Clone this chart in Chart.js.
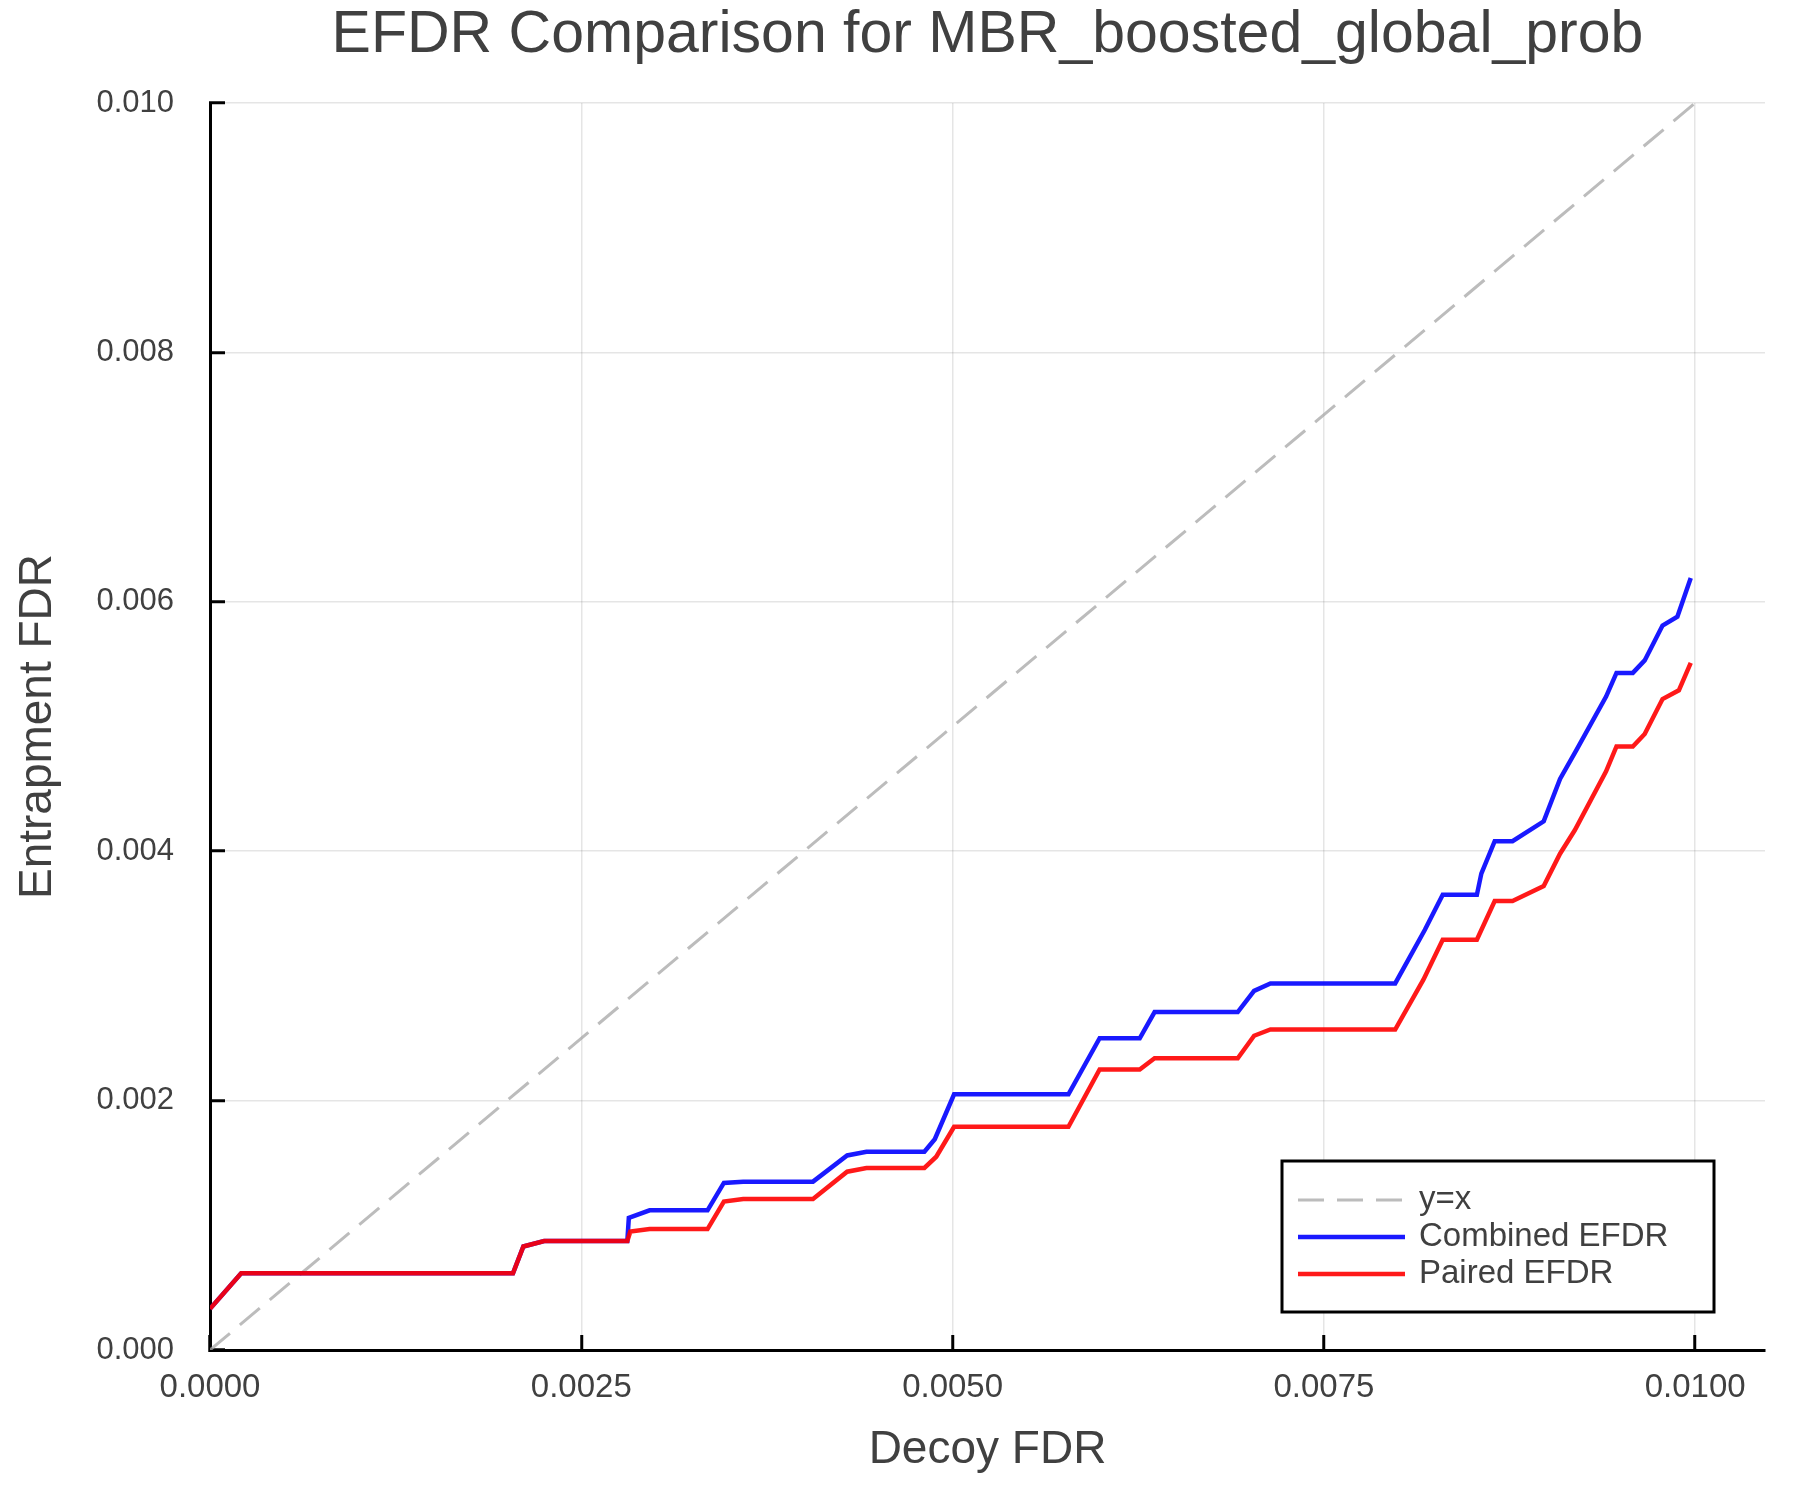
<!DOCTYPE html>
<html>
<head>
<meta charset="utf-8">
<style>
  html, body { margin: 0; padding: 0; background: #ffffff; }
  #wrap { width: 1800px; height: 1500px; }
</style>
<script src="https://cdn.jsdelivr.net/npm/chart.js@4.4.1/dist/chart.umd.min.js"></script>
</head>
<body>
<div id="wrap"><canvas id="c" width="1800" height="1500"></canvas></div>
<script>
const chartTitle = 'EFDR Comparison for MBR_boosted_global_prob';
const xAxisTitle = 'Decoy FDR';
const yAxisTitle = 'Entrapment FDR';
const seriesLabels = ['y=x', 'Combined EFDR', 'Paired EFDR'];

const xTicks = [0, 0.0025, 0.005, 0.0075, 0.01];
const yTicks = [0, 0.002, 0.004, 0.006, 0.008, 0.01];

const identityX = [0, 0.01];
const identityY = [0, 0.01];

const combinedX = [0, 0.00021, 0.00204, 0.00211, 0.00225, 0.00281, 0.00282, 0.00296, 0.00335, 0.00346,
  0.00359, 0.00406, 0.00429, 0.00442, 0.00481, 0.00488, 0.00501, 0.00578, 0.00599, 0.00626,
  0.00636, 0.00692, 0.00703, 0.00714, 0.00798, 0.00818, 0.0083, 0.00853, 0.00856, 0.00865,
  0.00877, 0.00898, 0.00909, 0.0092, 0.0094, 0.00947, 0.00958, 0.00966, 0.00978, 0.00988, 0.00997];
const combinedY = [0.00033, 0.000615, 0.000615, 0.00083, 0.000874, 0.000874, 0.00106, 0.00112, 0.00112, 0.00134,
  0.00135, 0.00135, 0.00156, 0.00159, 0.00159, 0.00169, 0.00205, 0.00205, 0.0025, 0.0025,
  0.00271, 0.00271, 0.00288, 0.00294, 0.00294, 0.00337, 0.00365, 0.00365, 0.00382, 0.00408,
  0.00408, 0.00424, 0.00458, 0.00481, 0.00524, 0.00543, 0.00543, 0.00553, 0.00581, 0.00588, 0.00619];

const pairedX = [0, 0.00021, 0.00204, 0.00211, 0.00225, 0.00281, 0.00283, 0.00296, 0.00335, 0.00346,
  0.00359, 0.00406, 0.00429, 0.00442, 0.00481, 0.00489, 0.00501, 0.00578, 0.00599, 0.00626,
  0.00636, 0.00692, 0.00703, 0.00714, 0.00798, 0.00817, 0.0083, 0.00853, 0.00865, 0.00877,
  0.00898, 0.00909, 0.00919, 0.0094, 0.00947, 0.00958, 0.00966, 0.00978, 0.00989, 0.00997];
const pairedY = [0.00033, 0.000615, 0.000615, 0.00083, 0.000874, 0.000874, 0.00095, 0.00097, 0.00097, 0.00119,
  0.00121, 0.00121, 0.00143, 0.00146, 0.00146, 0.00155, 0.00179, 0.00179, 0.00225, 0.00225,
  0.00234, 0.00234, 0.00252, 0.00257, 0.00257, 0.00297, 0.00329, 0.00329, 0.0036, 0.0036,
  0.00372, 0.00398, 0.00417, 0.00464, 0.00484, 0.00484, 0.00494, 0.00522, 0.00529, 0.00551];

const toPoints = (xs, ys) => xs.map((x, i) => ({ x: x, y: ys[i] }));

const FONT = '"Liberation Sans", Arial, Helvetica, sans-serif';
const TEXT = '#404040';

const boxLegend = {
  id: 'boxLegend',
  afterDraw(chart) {
    const ctx = chart.ctx;
    const ca = chart.chartArea;
    const w = 432, h = 151;
    const right = ca.right - 51, bottom = ca.bottom - 38;
    const left = right - w, top = bottom - h;
    ctx.save();
    ctx.fillStyle = '#ffffff';
    ctx.fillRect(left, top, w, h);
    ctx.strokeStyle = '#000000';
    ctx.lineWidth = 3;
    ctx.strokeRect(left, top, w, h);
    const rows = [39, 76, 113];
    chart.data.datasets.forEach((ds, i) => {
      const y = top + rows[i];
      ctx.beginPath();
      ctx.setLineDash(ds.borderDash || []);
      ctx.strokeStyle = ds.borderColor;
      ctx.lineWidth = ds.borderWidth;
      ctx.moveTo(left + 16, y);
      ctx.lineTo(left + 123, y);
      ctx.stroke();
      ctx.setLineDash([]);
      ctx.fillStyle = TEXT;
      ctx.font = '33px ' + FONT;
      ctx.textAlign = 'left';
      ctx.textBaseline = 'middle';
      ctx.fillText(ds.label, left + 137, y);
    });
    ctx.restore();
  }
};

new Chart(document.getElementById('c'), {
  type: 'line',
  data: {
    datasets: [
      { label: seriesLabels[0], order: 2, data: toPoints(identityX, identityY), borderColor: 'rgba(165,165,165,0.75)', borderWidth: 3, borderDash: [26, 13], pointRadius: 0, tension: 0, fill: false },
      { label: seriesLabels[1], order: 1, data: toPoints(combinedX, combinedY), borderColor: 'rgba(0,0,255,0.9)', borderWidth: 4.5, pointRadius: 0, tension: 0, fill: false },
      { label: seriesLabels[2], order: 0, data: toPoints(pairedX, pairedY), borderColor: 'rgba(255,0,0,0.9)', borderWidth: 4.5, pointRadius: 0, tension: 0, fill: false }
    ]
  },
  options: {
    responsive: false,
    devicePixelRatio: 1,
    animation: false,
    events: [],
    layout: { padding: { left: 0, right: 35, top: 0, bottom: 0 } },
    plugins: {
      legend: { display: false },
      tooltip: { enabled: false },
      title: {
        display: true, text: chartTitle, color: TEXT, fullSize: false,
        font: { family: FONT, size: 59, weight: 'normal' },
        padding: { top: 0, bottom: 32.2 }
      }
    },
    scales: {
      x: {
        type: 'linear', min: 0, max: 0.01047,
        afterBuildTicks: (s) => { s.ticks = xTicks.map(v => ({ value: v })); },
        afterFit: (s) => { s.height = 150; },
        ticks: { callback: (v) => Number(v).toFixed(4), color: TEXT, font: { family: FONT, size: 33 }, padding: 33, maxRotation: 0, autoSkip: false },
        grid: { color: 'rgba(0,0,0,0.1)', lineWidth: 1.5, tickLength: -15, tickColor: '#000000', tickWidth: 3 },
        border: { color: '#000000', width: 3 },
        title: { display: true, text: xAxisTitle, color: TEXT, font: { family: FONT, size: 46 }, padding: { top: 0, bottom: 22 } }
      },
      y: {
        type: 'linear', min: 0, max: 0.01,
        afterBuildTicks: (s) => { s.ticks = yTicks.map(v => ({ value: v })); },
        afterFit: (s) => { s.width = 210; },
        ticks: { callback: (v) => Number(v).toFixed(3), color: TEXT, font: { family: FONT, size: 31 }, padding: 51, autoSkip: false },
        grid: { color: 'rgba(0,0,0,0.1)', lineWidth: 1.5, tickLength: -15, tickColor: '#000000', tickWidth: 3 },
        border: { color: '#000000', width: 3 },
        title: { display: true, text: yAxisTitle, color: TEXT, font: { family: FONT, size: 46 }, padding: { top: 11, bottom: 0 } }
      }
    }
  },
  plugins: [boxLegend]
});
</script>
</body>
</html>
